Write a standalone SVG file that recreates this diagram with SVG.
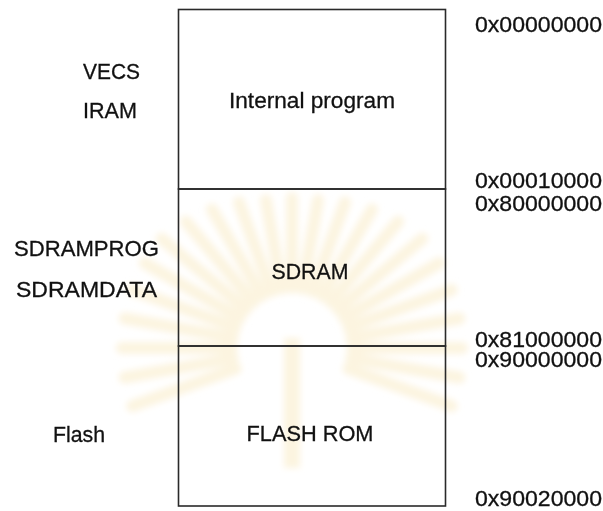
<svg xmlns="http://www.w3.org/2000/svg" width="603" height="511" viewBox="0 0 603 511">
  <defs>
    <style>
      .lbl { font-family: "Liberation Sans", Arial, sans-serif; font-size: 22px; fill: #111111; stroke: #111111; stroke-width: 0.3; }
      .mid { text-anchor: middle; }
      .box { fill: none; stroke: #2a2a2a; stroke-width: 1.6; }
      .ray { stroke: #fcf4e0; stroke-width: 12; stroke-linecap: round; }
    </style>
    <filter id="soft" x="-20%" y="-20%" width="140%" height="140%">
      <feGaussianBlur stdDeviation="3"/>
    </filter>
  </defs>
  <rect width="603" height="511" fill="#ffffff"/>

  <!-- faint sunburst emblem in the background -->
  <g id="emblem" filter="url(#soft)">
    <g transform="translate(292,348)">
      <line class="ray" x1="-60" y1="0" x2="-170" y2="0" transform="rotate(-20)"/>
      <line class="ray" x1="-60" y1="0" x2="-170" y2="0" transform="rotate(-10)"/>
      <line class="ray" x1="-60" y1="0" x2="-170" y2="0" transform="rotate(0)"/>
      <line class="ray" x1="-60" y1="0" x2="-170" y2="0" transform="rotate(10)"/>
      <line class="ray" x1="-60" y1="0" x2="-170" y2="0" transform="rotate(20)"/>
      <line class="ray" x1="-60" y1="0" x2="-170" y2="0" transform="rotate(30)"/>
      <line class="ray" x1="-60" y1="0" x2="-170" y2="0" transform="rotate(40)"/>
      <line class="ray" x1="-60" y1="0" x2="-165" y2="0" transform="rotate(50)"/>
      <line class="ray" x1="-60" y1="0" x2="-160" y2="0" transform="rotate(60)"/>
      <line class="ray" x1="-60" y1="0" x2="-155" y2="0" transform="rotate(70)"/>
      <line class="ray" x1="-60" y1="0" x2="-150" y2="0" transform="rotate(80)"/>
      <line class="ray" x1="-60" y1="0" x2="-150" y2="0" transform="rotate(90)"/>
      <line class="ray" x1="-60" y1="0" x2="-150" y2="0" transform="rotate(100)"/>
      <line class="ray" x1="-60" y1="0" x2="-155" y2="0" transform="rotate(110)"/>
      <line class="ray" x1="-60" y1="0" x2="-160" y2="0" transform="rotate(120)"/>
      <line class="ray" x1="-60" y1="0" x2="-165" y2="0" transform="rotate(130)"/>
      <line class="ray" x1="-60" y1="0" x2="-170" y2="0" transform="rotate(140)"/>
      <line class="ray" x1="-60" y1="0" x2="-170" y2="0" transform="rotate(150)"/>
      <line class="ray" x1="-60" y1="0" x2="-170" y2="0" transform="rotate(160)"/>
      <line class="ray" x1="-60" y1="0" x2="-170" y2="0" transform="rotate(170)"/>
      <line class="ray" x1="-60" y1="0" x2="-170" y2="0" transform="rotate(180)"/>
      <line class="ray" x1="-60" y1="0" x2="-170" y2="0" transform="rotate(190)"/>
      <line class="ray" x1="-60" y1="0" x2="-170" y2="0" transform="rotate(200)"/>
      <rect x="-8" y="-10" width="16" height="130" fill="#fcf4e0"/>
    </g>
  </g>

  <!-- memory regions -->
  <g id="region-internal">
    <rect class="box" x="178.5" y="9.5" width="267" height="179.5"/>
    <text class="lbl mid" x="312" y="108" textLength="166" lengthAdjust="spacingAndGlyphs">Internal program</text>
  </g>
  <g id="region-sdram">
    <rect class="box" x="178.5" y="189" width="267" height="157"/>
    <text class="lbl mid" x="310" y="279" textLength="77" lengthAdjust="spacingAndGlyphs">SDRAM</text>
  </g>
  <g id="region-flash">
    <rect class="box" x="178.5" y="346" width="267" height="160"/>
    <text class="lbl mid" x="310" y="441" textLength="127" lengthAdjust="spacingAndGlyphs">FLASH ROM</text>
  </g>

  <!-- section names -->
  <g id="section-names">
    <text class="lbl" x="83" y="79" textLength="57" lengthAdjust="spacingAndGlyphs">VECS</text>
    <text class="lbl" x="83" y="118" textLength="54" lengthAdjust="spacingAndGlyphs">IRAM</text>
    <text class="lbl" x="14" y="256" textLength="145" lengthAdjust="spacingAndGlyphs">SDRAMPROG</text>
    <text class="lbl" x="16" y="297" textLength="141" lengthAdjust="spacingAndGlyphs">SDRAMDATA</text>
    <text class="lbl" x="53" y="442" textLength="52" lengthAdjust="spacingAndGlyphs">Flash</text>
  </g>

  <!-- addresses -->
  <g id="addresses">
    <text class="lbl" x="475" y="32" textLength="127" lengthAdjust="spacingAndGlyphs">0x00000000</text>
    <text class="lbl" x="475" y="188" textLength="127" lengthAdjust="spacingAndGlyphs">0x00010000</text>
    <text class="lbl" x="475" y="211" textLength="127" lengthAdjust="spacingAndGlyphs">0x80000000</text>
    <text class="lbl" x="475" y="347" textLength="127" lengthAdjust="spacingAndGlyphs">0x81000000</text>
    <text class="lbl" x="475" y="367" textLength="127" lengthAdjust="spacingAndGlyphs">0x90000000</text>
    <text class="lbl" x="475" y="506" textLength="127" lengthAdjust="spacingAndGlyphs">0x90020000</text>
  </g>
</svg>
